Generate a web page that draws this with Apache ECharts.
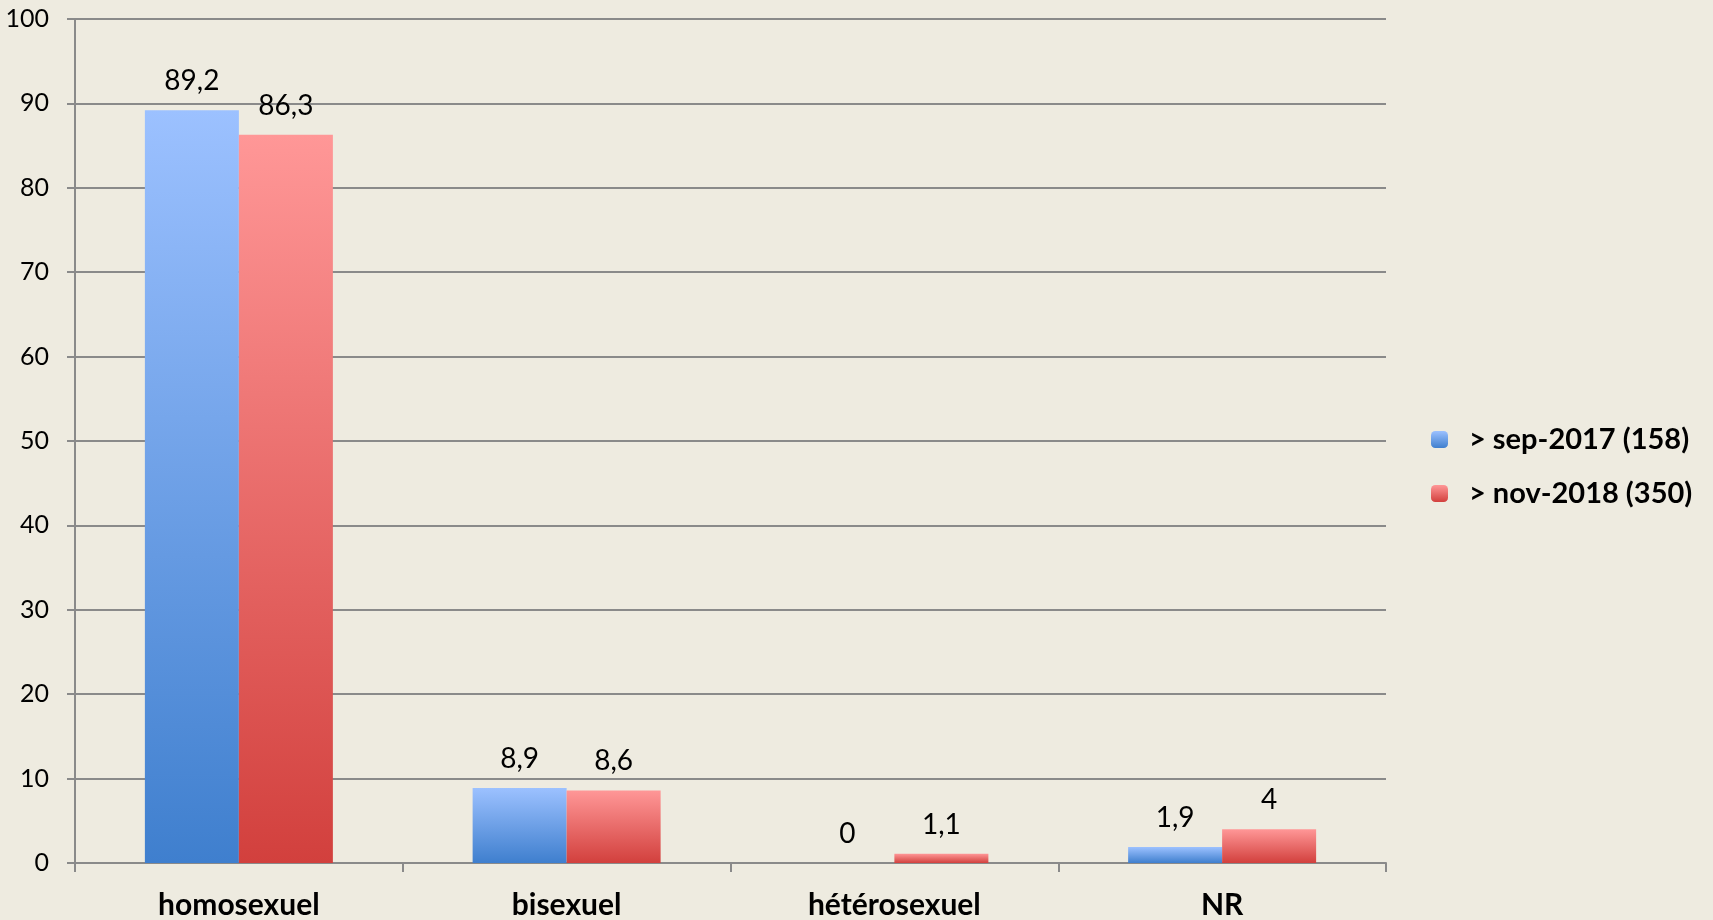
<!DOCTYPE html>
<html><head><meta charset="utf-8">
<script src="https://cdn.jsdelivr.net/npm/echarts@6/dist/echarts.min.js"></script>
<style>html,body{margin:0;padding:0;background:#eeebe0;}#c{width:1713px;height:920px;}</style>
</head><body><div id="c"></div>
<script>
const categories = ['homosexuel', 'bisexuel', 'hétérosexuel', 'NR'];
const seriesNames = ['> sep-2017 (158)', '> nov-2018 (350)'];
const sep2017 = [89.2, 8.9, 0, 1.9];
const nov2018 = [86.3, 8.6, 1.1, 4];
const yTicks = [0, 10, 20, 30, 40, 50, 60, 70, 80, 90, 100];

const fontFam = 'Lato, "Open Sans", sans-serif';
function grad(top, bottom) {
  return new echarts.graphic.LinearGradient(0, 0, 0, 1, [
    {offset: 0, color: top}, {offset: 1, color: bottom}
  ]);
}
const chart = echarts.init(document.getElementById('c'));
const lbl = {
  show: true, position: 'top', distance: 15,
  fontFamily: fontFam, fontSize: 28, color: '#000',
  formatter: p => String(p.value).replace('.', ',')
};
chart.setOption({
  backgroundColor: '#eeebe0',
  animation: false,
  grid: {left: 75, right: 327, top: 19, bottom: 57},
  legend: {
    orient: 'vertical', left: 1426, top: 420,
    itemWidth: 17, itemHeight: 17, itemGap: 25,
    textStyle: {fontFamily: fontFam, fontSize: 29, fontWeight: 'bold', color: '#000', padding: [0, 0, 0, 16]},
    data: seriesNames
  },
  xAxis: {
    type: 'category', data: categories,
    axisLine: {lineStyle: {color: '#8a8a8a', width: 2}},
    axisTick: {show: true, length: 9, lineStyle: {color: '#8a8a8a', width: 2}},
    axisLabel: {fontFamily: fontFam, fontSize: 30, fontWeight: 'bold', color: '#000', margin: 27}
  },
  yAxis: {
    type: 'value', min: 0, max: 100, interval: 10,
    axisLine: {show: true, lineStyle: {color: '#8a8a8a', width: 2}},
    axisTick: {show: true, length: 8, lineStyle: {color: '#8a8a8a', width: 2}},
    splitLine: {lineStyle: {color: '#8a8a8a', width: 2}},
    axisLabel: {fontFamily: fontFam, fontSize: 25, color: '#000', margin: 26,
      formatter: v => yTicks.includes(v) ? String(v) : ''}
  },
  series: [
    {name: seriesNames[0], type: 'bar', data: sep2017, barWidth: 94, barGap: '0%',
     itemStyle: {color: grad('#9cc1ff', '#3f7fce')}, label: lbl},
    {name: seriesNames[1], type: 'bar', data: nov2018, barWidth: 94, barGap: '0%',
     itemStyle: {color: grad('#ff9797', '#d2403d')}, label: lbl}
  ]
});
</script></body></html>
